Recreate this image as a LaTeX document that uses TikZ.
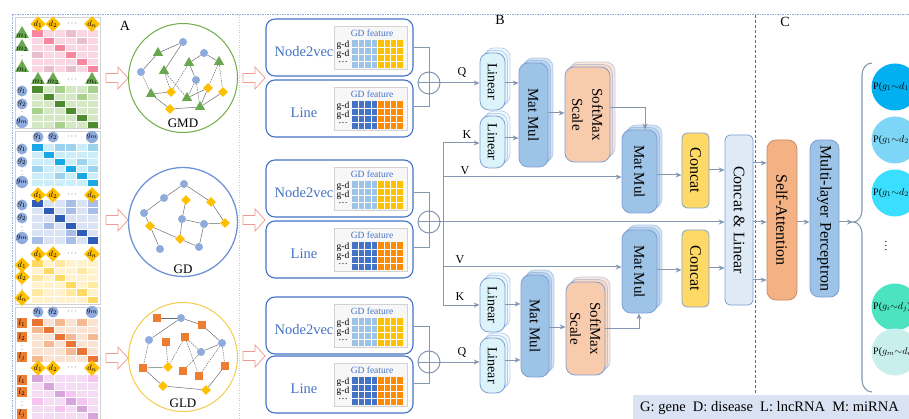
\documentclass[tikz,border=0pt]{standalone}
\usepackage{fontspec}
\setmainfont{Liberation Serif}
\usetikzlibrary{shapes.geometric,fit,shadows,arrows.meta,calc}
\definecolor{cline}{HTML}{8497B0}
\definecolor{bblue}{HTML}{4472C4}
\definecolor{bord}{HTML}{7F9FD4}
\definecolor{lcyan}{HTML}{DCF3FA}
\definecolor{mmblue}{HTML}{9DC3E6}
\definecolor{smfill}{HTML}{F8CBAD}
\definecolor{safill}{HTML}{F4B183}
\definecolor{ccfill}{HTML}{FFD966}
\definecolor{clfill}{HTML}{DEEBF7}
\definecolor{arrpink}{HTML}{F19C94}
\definecolor{gnode}{HTML}{8FAADC}
\definecolor{gtri}{HTML}{6AA84F}
\definecolor{ydia}{HTML}{FFC000}
\definecolor{osq}{HTML}{ED7D31}
\definecolor{gmdc}{HTML}{70AD47}
\definecolor{gdc}{HTML}{6E93D6}
\definecolor{gldc}{HTML}{F4CB4C}
\definecolor{nvA}{HTML}{9DC3E6}
\definecolor{nvB}{HTML}{FFC000}
\definecolor{lnA}{HTML}{4472C4}
\definecolor{lnB}{HTML}{FF8C00}
\definecolor{legbg}{HTML}{DAE3F3}
\definecolor{oc1}{HTML}{00B0F0}
\definecolor{oc2}{HTML}{7DD6F6}
\definecolor{oc3}{HTML}{3ADFFF}
\definecolor{oc4}{HTML}{4CE3C0}
\definecolor{oc5}{HTML}{C8EFEC}
\definecolor{pkA}{HTML}{FAD7E2}\definecolor{pkB}{HTML}{F7879E}\definecolor{pkC}{HTML}{E9BFCB}
\definecolor{grA}{HTML}{D5E8C4}\definecolor{grB}{HTML}{4E8A2E}\definecolor{grC}{HTML}{A9D18E}
\definecolor{cyA}{HTML}{CCEEFB}\definecolor{cyB}{HTML}{1BA8E6}\definecolor{cyC}{HTML}{9CD3EE}
\definecolor{dbA}{HTML}{DAE3F3}\definecolor{dbB}{HTML}{2E5CB8}\definecolor{dbC}{HTML}{A9BEE6}
\definecolor{yeA}{HTML}{FFF2CC}\definecolor{yeB}{HTML}{FFD966}\definecolor{yeC}{HTML}{FFE8A0}
\definecolor{orA}{HTML}{FBE3D3}\definecolor{orB}{HTML}{EA7434}\definecolor{orC}{HTML}{F4B990}
\definecolor{vlA}{HTML}{F4DDF4}\definecolor{vlB}{HTML}{D6A6DA}\definecolor{vlC}{HTML}{F5C4F3}
\newcommand{\fsz}[1]{\fontsize{#1}{#1}\selectfont}
% matrix: y0, row height, base, diag, mid, mid list
\newcommand{\mtx}[6]{%
  \fill[#3] (32,#1) rectangle (98,#1+6*#2);
  \foreach \c/\r in {#6}{\fill[#5] (32+11*\c,#1+#2*\r) rectangle ++(11,#2);}
  \foreach \i in {0,...,5}{\fill[#4] (32+11*\i,#1+#2*\i) rectangle ++(11,#2);}
  \foreach \i in {1,...,5}{\draw[white,line width=.7pt] (32+11*\i,#1) -- ++(0,6*#2);
    \draw[white,line width=.7pt] (32,#1+#2*\i) -- ++(66,0);}
}
\newcommand{\gl}[3]{\node[glab] (gl-#1-#2) at (#1,#2) {$g_{#3}$};}
\newcommand{\dl}[3]{\node[dlab] (dl-#1-#2) at (#1,#2) {$d_{#3}$};}
\newcommand{\lL}[3]{\node[llab] (ll-#1-#2) at (#1,#2) {$l_{#3}$};}
\newcommand{\mL}[3]{\node[mlab] (ml-#1-#2) at (#1,#2) {};\node[labt] (mt-#1-#2) at (#1,#2+2) {$m_{#3}$};}
\newcommand{\hdr}[3]{#2{38}{#1}{1}#2{53}{#1}{2}\node[labt] (hd-#1) at (72,#1) {$\cdots$};#2{92}{#1}{#3}}
\newcommand{\rws}[6]{#1{22}{#2}{1}#1{22}{#3}{2}\node[labt,font=\fsz{6}] (rv-#4) at (22,#4) {$\vdots$};#1{22}{#5}{#6}}
\newcommand{\bigarr}[2]{\draw[arrpink,fill=white,line width=.8pt] (#1,#2-4.5) -- (#1+12,#2-4.5) -- (#1+12,#2-11) -- (#1+22,#2) -- (#1+12,#2+11) -- (#1+12,#2+4.5) -- (#1,#2+4.5) -- cycle;}
\newcommand{\embox}[5]{%
  \node[embox, fit={(266,#2) (413,#2+57)}] (#1) {};
  \node[emtxt] (#1t) at (304,#2+33) {#3};
  \node[panel, fit={(334,#2+7) (407,#2+50)}] (#1p) {};
  \node[fttl] (#1h) at (372,#2+14) {GD feature};
  \fill[#4] (352,#2+21) rectangle (377.5,#2+49);
  \fill[#5] (377.5,#2+21) rectangle (403,#2+49);
  \foreach \i in {1,...,7}{\draw[white,line width=.6pt] (352+6.375*\i,#2+21) -- ++(0,28);}
  \foreach \j in {1,2,3}{\draw[white,line width=.6pt] (352,#2+21+7*\j) -- ++(51,0);}
  \node[gdt] (#1a) at (343,#2+26) {g-d};
  \node[gdt] (#1b) at (343,#2+35) {g-d};
  \node[gdt] (#1c) at (343,#2+43) {\dots};
}
\newcommand{\blk}[7]{\node[#6, fit={(#2,#3) (#4,#5)}] (#1) {};\node[#6txt] (#1t) at (#1.center) {#7};}
\begin{document}
\begin{tikzpicture}[x=1pt,y=-1pt,
  conn/.style={draw=cline,line width=1pt},
  arr/.style={conn,-{Stealth[length=6pt,width=5pt]}},
  glab/.style={circle,fill=gnode,minimum size=11pt,inner sep=0pt,font=\fsz{8}},
  dlab/.style={diamond,fill=ydia,minimum width=14pt,minimum height=12pt,inner sep=0pt,font=\fsz{8}},
  llab/.style={rectangle,fill=osq,minimum size=10pt,inner sep=0pt,font=\fsz{8}},
  mlab/.style={regular polygon,regular polygon sides=3,fill=gtri,minimum size=16pt,inner sep=0pt},
  labt/.style={inner sep=0pt,font=\fsz{8}},
  gn/.style={circle,fill=gnode,minimum size=8pt,inner sep=0pt},
  tn/.style={regular polygon,regular polygon sides=3,fill=gtri,minimum size=12pt,inner sep=0pt},
  dn/.style={diamond,fill=ydia,minimum size=10pt,inner sep=0pt},
  sn/.style={rectangle,fill=osq,minimum size=8pt,inner sep=0pt},
  ge/.style={draw=gray!85!black,line width=.5pt},
  gde/.style={ge,dash pattern=on 1.5pt off 1pt},
  gcirc/.style={circle,minimum size=109pt,inner sep=0pt},
  gname/.style={font=\fsz{13}},
  embox/.style={rounded corners=9pt,draw=bblue,line width=1.1pt,inner sep=0pt,fill=white},
  emtxt/.style={text=bblue,font=\fsz{14.5}},
  panel/.style={fill=gray!6,draw=gray!35,line width=.5pt,inner sep=0pt,drop shadow={shadow xshift=1pt,shadow yshift=-1pt,opacity=.25}},
  fttl/.style={text=bblue,font=\fsz{9.5}},
  gdt/.style={inner sep=0pt,font=\fsz{9.5}},
  oplus/.style={circle,draw=cline,line width=1pt,minimum size=22pt,inner sep=0pt},
  blkb/.style={rounded corners=9pt,draw=bord,line width=.8pt,inner sep=0pt},
  lin/.style={blkb,fill=lcyan,double copy shadow={shadow xshift=2.5pt,shadow yshift=2.5pt,opacity=.45}},
  lintxt/.style={rotate=-90,font=\fsz{14}},
  mm/.style={blkb,fill=mmblue,double copy shadow={shadow xshift=2.5pt,shadow yshift=2.5pt,opacity=.45}},
  mmtxt/.style={rotate=-90,font=\fsz{15}},
  sm/.style={blkb,fill=smfill,double copy shadow={shadow xshift=2.5pt,shadow yshift=2.5pt,opacity=.45}},
  smtxt/.style={rotate=-90,font=\fontsize{15}{20}\selectfont,align=center},
  cc/.style={blkb,rounded corners=5pt,fill=ccfill},
  cctxt/.style={rotate=-90,font=\fsz{16}},
  clb/.style={blkb,rounded corners=5pt,fill=clfill},
  clbtxt/.style={rotate=-90,font=\fsz{16}},
  sab/.style={blkb,rounded corners=9pt,fill=safill,draw=safill!80!black},
  sabtxt/.style={rotate=-90,font=\fsz{16}},
  mlpb/.style={blkb,rounded corners=9pt,fill=mmblue},
  mlpbtxt/.style={rotate=-90,font=\fsz{16}},
  qkv/.style={font=\fsz{12},inner sep=0pt},
  sect/.style={font=\fsz{14},inner sep=0pt},
  outc/.style={circle,minimum size=47pt,inner sep=0pt},
  outt/.style={anchor=west,inner sep=0pt,font=\fsz{10}}]
\useasboundingbox (0,0) rectangle (909,419);
% ---------- frames / separators
\draw[gnode,line width=1pt,dash pattern=on 1.5pt off 1pt] (12,15) -- (909,15);
\draw[gnode,line width=1pt,dash pattern=on 1.5pt off 1pt] (12,15) -- (12,419);
\draw[gnode!60,line width=.8pt,dash pattern=on 1pt off 1.5pt] (239,15) -- (239,419);
\draw[bblue,line width=1pt,dash pattern=on 3pt off 2pt] (755,15) -- (755,419);
\node[sect] (secA) at (125,26) {A};
\node[sect] (secB) at (500,20) {B};
\node[sect] (secC) at (785,22) {C};
% ---------- matrices
\draw[gray!35,line width=1pt] (15,18) rectangle (100,129);
\draw[gray!35,line width=1pt] (15,132) rectangle (100,304);
\draw[gray!35,line width=1pt] (15,307) rectangle (100,425);
\mtx{30}{7}{pkA}{pkB}{pkC}{3/0,4/1,0/3,3/5,1/5}
\hdr{24}{\dl}{n}
\rws{\mL}{34}{47}{57}{68}{i}
\mtx{86}{7}{grA}{grB}{grC}{2/0,4/1,0/3,2/5,5/0}
\hdr{80}{\mL}{i}
\rws{\gl}{91}{104}{113}{122}{m}
\mtx{144}{7}{cyA}{cyB}{cyC}{2/0,3/0,5/0,4/2,0/3,5/3,2/4}
\hdr{137}{\gl}{m}
\rws{\gl}{149}{162}{172}{182}{m}
\mtx{200}{7.3}{dbA}{dbB}{dbC}{3/0,5/0,3/1,5/1,1/3,3/4,0/5,3/5}
\hdr{195}{\dl}{n}
\rws{\gl}{205}{218}{228}{238}{m}
\mtx{260}{7.2}{yeA}{yeB}{yeC}{2/0,4/1,0/2,2/2,5/3,3/4,0/4}
\hdr{254}{\dl}{n}
\rws{\dl}{265}{277}{287}{298}{n}
\mtx{319}{7.2}{orA}{orB}{orC}{2/0,4/0,0/1,3/2,5/2,1/3,3/4,0/5}
\hdr{312}{\gl}{m}
\rws{\lL}{323}{337}{347}{357}{j}
\mtx{375}{7.5}{vlA}{vlB}{vlC}{1/1,3/2,0/3,4/3,2/4,5/0}
\hdr{368}{\dl}{n}
\rws{\lL}{380}{392}{403}{414}{j}
% ---------- big arrows
\bigarr{106}{78}\bigarr{106}{220}\bigarr{106}{358}
\bigarr{243}{78}\bigarr{243}{220}\bigarr{243}{356}
% ---------- GMD graph
\node[gcirc,draw=gmdc,line width=1pt] (cGMD) at (183,78) {};
\node[gname] (tGMD) at (183,123) {GMD};
\node[gn] (a1) at (183,42) {};\node[gn] (a2) at (204,53) {};\node[gn] (a3) at (141,72) {};\node[gn] (a4) at (196,80) {};
\node[tn] (a5) at (158,53) {};\node[tn] (a6) at (189,63) {};\node[tn] (a7) at (219,62) {};\node[tn] (a8) at (164,71) {};
\node[tn] (a9) at (151,94) {};\node[tn] (a10) at (187,98) {};\node[tn] (a11) at (200,107) {};
\node[dn] (a12) at (171,92) {};\node[dn] (a13) at (208,88) {};\node[dn] (a14) at (223,92) {};\node[dn] (a15) at (170,109) {};
\foreach \u/\v in {a1/a5,a1/a8,a5/a3,a6/a2,a2/a7,a6/a4,a9/a12,a10/a13,a13/a11,a11/a15,a15/a9,a14/a11}{\draw[ge] (\u) -- (\v);}
\foreach \u/\v in {a3/a9,a8/a12,a8/a10,a4/a10,a7/a13,a7/a14,a6/a12,a4/a11}{\draw[gde] (\u) -- (\v);}
% ---------- GD graph
\node[gcirc,draw=gdc,line width=1.3pt] (cGD) at (183,222) {};
\node[gname] (tGD) at (183,269) {GD};
\node[gn] (b1) at (184,184) {};\node[gn] (b2) at (164,198) {};\node[dn] (b3) at (186,200) {};\node[dn] (b4) at (211,202) {};
\node[gn] (b5) at (144,213) {};\node[gn] (b6) at (182,219) {};\node[gn] (b7) at (204,224) {};\node[dn] (b8) at (225,223) {};
\node[dn] (b9) at (150,226) {};\node[dn] (b10) at (180,239) {};\node[gn] (b11) at (199,247) {};\node[gn] (b12) at (160,249) {};
\foreach \u/\v in {b1/b2,b1/b4,b2/b5,b3/b6,b6/b7,b7/b8,b4/b8,b5/b9,b9/b10,b10/b11,b7/b11,b9/b12,b6/b10}{\draw[ge] (\u) -- (\v);}
% ---------- GLD graph
\node[gcirc,draw=gldc,line width=1pt] (cGLD) at (183,357) {};
\node[gname] (tGLD) at (183,403) {GLD};
\node[sn] (c1) at (157,318) {};\node[gn] (c2) at (181,318) {};\node[sn] (c3) at (202,325) {};\node[gn] (c4) at (149,340) {};
\node[sn] (c5) at (166,342) {};\node[sn] (c6) at (185,337) {};\node[gn] (c7) at (201,352) {};\node[gn] (c8) at (222,343) {};
\node[sn] (c9) at (143,368) {};\node[dn] (c10) at (168,367) {};\node[sn] (c11) at (183,371) {};\node[sn] (c12) at (199,376) {};
\node[sn] (c13) at (225,366) {};\node[dn] (c14) at (163,386) {};\node[dn] (c15) at (206,390) {};
\foreach \u/\v in {c1/c2,c2/c3,c2/c4,c3/c8,c8/c7,c9/c10,c9/c14,c14/c15,c15/c13}{\draw[ge] (\u) -- (\v);}
\foreach \u/\v in {c4/c9,c5/c10,c6/c10,c6/c12,c6/c7,c8/c12,c8/c13,c7/c11}{\draw[gde] (\u) -- (\v);}
% ---------- embedding boxes
\embox{n1}{19}{Node2vec}{nvA}{nvB}
\embox{l1}{80}{Line}{lnA}{lnB}
\embox{n2}{160}{Node2vec}{nvA}{nvB}
\embox{l2}{221}{Line}{lnA}{lnB}
\embox{n3}{297}{Node2vec}{nvA}{nvB}
\embox{l3}{356}{Line}{lnA}{lnB}
\foreach \p/\y in {p1/83,p2/222,p3/362}{\node[oplus] (\p) at (429,\y) {};
  \draw[conn] (\p.north) -- (\p.south) (\p.west) -- (\p.east);}
\draw[conn] (n1.east |- 0,48) -| (p1.north);
\draw[conn] (l1.east |- 0,107) -| (p1.south);
\draw[conn] (n2.east |- 0,193) -| (p2.north);
\draw[conn] (l2.east |- 0,248) -| (p2.south);
\draw[conn] (n3.east |- 0,326) -| (p3.north);
\draw[conn] (l3.east |- 0,383) -| (p3.south);
% ---------- attention blocks
\blk{lqt}{480}{53}{505}{110}{lin}{Linear}
\blk{lkt}{480}{116}{505}{168}{lin}{Linear}
\blk{mmt}{519}{63}{548}{167}{mm}{Mat Mul}
\blk{smt}{565}{67}{610}{162}{sm}{SoftMax\\Scale}
\blk{m2t}{622}{130}{657}{213}{mm}{Mat Mul}
\blk{cct}{682}{133}{709}{208}{cc}{Concat}
\blk{cl}{725}{135}{753}{305}{clb}{Concat \& Linear}
\blk{m2b}{622}{230}{657}{313}{mm}{Mat Mul}
\blk{ccb}{682}{230}{709}{307}{cc}{Concat}
\blk{smb}{566}{282}{605}{375}{sm}{SoftMax\\Scale}
\blk{mmb}{521}{275}{549}{377}{mm}{Mat Mul}
\blk{lkb}{480}{278}{505}{332}{lin}{Linear}
\blk{lqb}{480}{338}{505}{393}{lin}{Linear}
\blk{sa}{767}{140}{797}{300}{sab}{Self-Attention}
\blk{mlp}{810}{140}{839}{297}{mlpb}{Multi-layer Perceptron}
% bus and Q K V
\coordinate (bt) at (443,143);
\coordinate (vt) at (443,177);
\coordinate (vb) at (443,267);
\coordinate (bb) at (443,305);
\draw[conn] (bt) -- (bb);
\draw[arr] (p1.east) -- (lqt.west |- p1.east);
\draw[arr] (bt) -- (lkt.west |- bt);
\draw[arr] (vt) -- (m2t.west |- vt);
\draw[arr] (p2.east) -- (cl.west |- p2.east);
\draw[arr] (vb) -- (m2b.west |- vb);
\draw[arr] (bb) -- (lkb.west |- bb);
\draw[arr] (p3.east) -- (lqb.west |- p3.east);
\node[qkv] (lQ1) at (462,73) {Q};
\node[qkv] (lK1) at (467,135) {K};
\node[qkv] (lV1) at (465,171) {V};
\node[qkv] (lV2) at (460,260) {V};
\node[qkv] (lK2) at (460,297) {K};
\node[qkv] (lQ2) at (462,352) {Q};
% internal arrows
\draw[arr] (lqt.east |- 0,83) -- (mmt.west |- 0,83);
\draw[arr] (lkt.east |- 0,138) -- (mmt.west |- 0,138);
\draw[arr] (mmt.east |- 0,113) -- (smt.west |- 0,113);
\draw[arr] (smt.east |- 0,108) -| (645,0 |- m2t.north);
\draw[arr] (m2t.east |- 0,175) -- (cct.west |- 0,175);
\draw[arr] (cct.east |- 0,170) -- (cl.west |- 0,170);
\draw[arr] (m2b.east |- 0,270) -- (ccb.west |- 0,270);
\draw[arr] (ccb.east |- 0,268) -- (cl.west |- 0,268);
\draw[arr] (lkb.east |- 0,304) -- (mmb.west |- 0,304);
\draw[arr] (lqb.east |- 0,360) -- (mmb.west |- 0,360);
\draw[arr] (mmb.east |- 0,327) -- (smb.west |- 0,327);
\draw[arr] (smb.east |- 0,328) -| (639,0 |- m2b.south);
\draw[arr] (cl.east |- 0,163) -- (sa.west |- 0,163);
\draw[arr] (cl.east |- 0,222) -- (sa.west |- 0,222);
\draw[arr] (cl.east |- 0,280) -- (sa.west |- 0,280);
\draw[arr] (sa.east |- 0,222) -- (mlp.west |- 0,222);
\coordinate (btip) at (853,222);
\draw[arr] (mlp.east |- 0,222) -- (btip);
% brace
\draw[cline,line width=1.1pt] (872,63) to[out=180,in=90] (862,75) -- (862,210) to[out=-90,in=0] (853,222)
  to[out=0,in=90] (862,234) -- (862,380) to[out=-90,in=180] (872,392);
% outputs
\node[outc,fill=oc1] (o1) at (895,87) {};
\node[outc,fill=oc2] (o2) at (895,140) {};
\node[outc,fill=oc3] (o3) at (895,193) {};
\node[outc,fill=oc4] (o4) at (895,307) {};
\node[outc,fill=oc5] (o5) at (895,352) {};
\node[outt] (o1t) at (873,87) {P($g_1{\sim}d_1$)};
\node[outt] (o2t) at (873,140) {P($g_1{\sim}d_2$)};
\node[outt] (o3t) at (873,193) {P($g_1{\sim}d_2$)};
\node[outt] (o4t) at (873,307) {P($g_i{\sim}d_j$)};
\node[outt] (o5t) at (873,352) {P($g_m{\sim}d_n$)};
\node[font=\fsz{11},inner sep=0pt] (odots) at (886,243) {$\vdots$};
% legend
\node[fill=legbg,inner sep=0pt,fit={(633,395) (912,422)}] (leg) {};
\node[font=\fsz{14.5},anchor=west,inner sep=0pt] (legt) at (640,408) {G: gene\ \ D: disease\ \ L: lncRNA\ \ M: miRNA};
\end{tikzpicture}
\end{document}
